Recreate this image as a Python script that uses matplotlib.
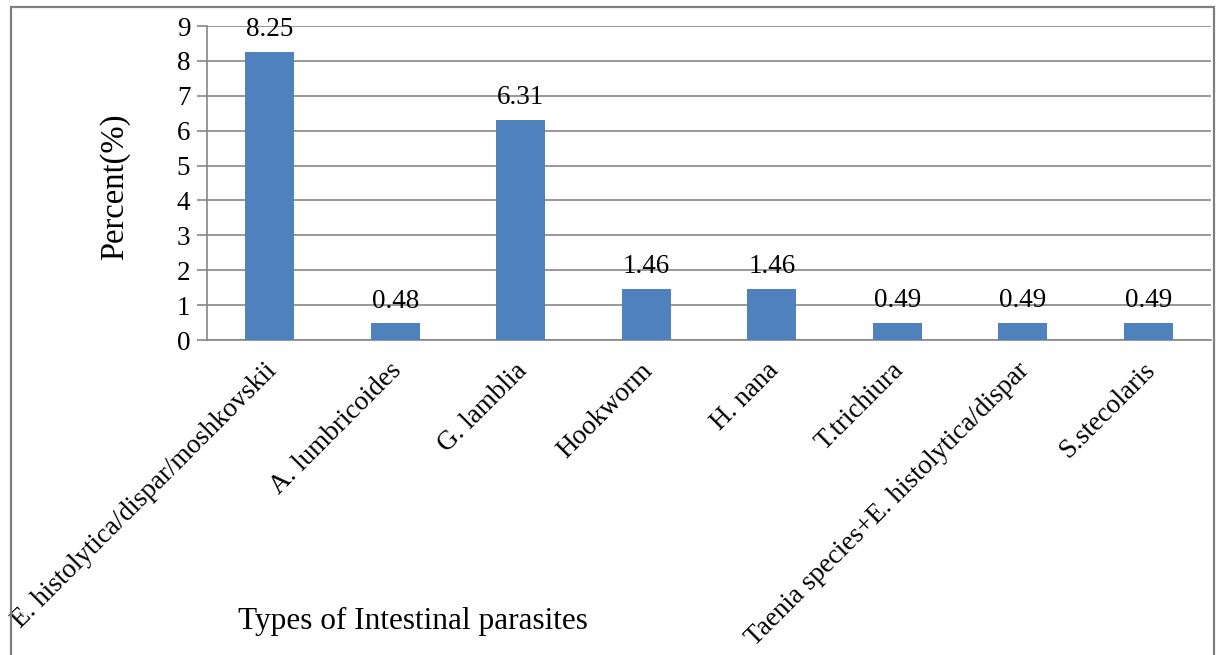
import matplotlib.pyplot as plt
import matplotlib.transforms as mtransforms
from matplotlib.patches import Rectangle
import numpy as np

plt.rcParams['font.family'] = ['Liberation Serif', 'DejaVu Serif']

# data
parasites = ['E. histolytica/dispar/moshkovskii', 'A. lumbricoides', 'G. lamblia',
             'Hookworm', 'H. nana', 'T.trichiura',
             'Taenia species+E. histolytica/dispar', 'S.stecolaris']
percent = [8.25, 0.48, 6.31, 1.46, 1.46, 0.49, 0.49, 0.49]
yticks = list(range(0, 10))

W, H = 1217, 655
fig = plt.figure(figsize=(W / 100, H / 100), dpi=100)
ax = fig.add_axes([207 / W, 1 - 340 / H, (1211 - 207) / W, (340 - 26) / H])

x = np.arange(len(parasites))
bars = ax.bar(x, percent, width=0.39, color='#4F81BD', zorder=3)

# value labels above the bars
for xi, v in zip(x, percent):
    ax.annotate('%.2f' % v, (xi, v), xytext=(0, 7), textcoords='offset points',
                ha='center', va='bottom', fontsize=19.5, color='black')

ax.set_xlim(-0.5, len(parasites) - 0.5)
ax.set_ylim(0, 9)
ax.set_yticks(yticks)
ax.tick_params(axis='y', labelsize=19.5, length=7, width=1.2, color='#868686', pad=5)
ax.grid(axis='y', color='#868686', linewidth=1.2, zorder=0)
ax.set_axisbelow(True)
for s in ['top', 'right']:
    ax.spines[s].set_visible(False)
for s in ['left', 'bottom']:
    ax.spines[s].set_color('#868686')
    ax.spines[s].set_linewidth(1.2)

ax.set_xticks(x)
ax.set_xticklabels(parasites, rotation=45, ha='right', va='top',
                   rotation_mode='anchor', fontsize=19.5)
ax.tick_params(axis='x', length=0, pad=13)
shift = mtransforms.ScaledTranslation(-6 / 100, 0, fig.dpi_scale_trans)
for lab in ax.get_xticklabels():
    lab.set_transform(lab.get_transform() + shift)

fig.text(115 / W, 1 - 187 / H, 'Percent(%)', fontsize=23.5, rotation=90,
         ha='center', va='center')

fig.text(413 / W, 1 - 621 / H, 'Types of Intestinal parasites', fontsize=22.5,
         ha='center', va='center')

# outer frame of the chart area
fig.patches.append(Rectangle((11 / W, -0.02), (1214 - 11) / W, 1 - 7 / H + 0.02,
                             transform=fig.transFigure, fill=False,
                             edgecolor='#7f7f7f', linewidth=1.6))

fig.savefig('out.png', dpi=100)
